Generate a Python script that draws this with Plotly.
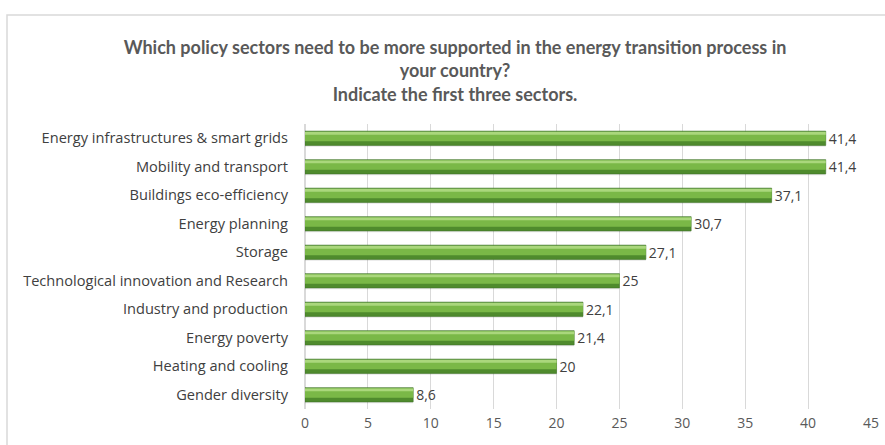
import plotly.graph_objects as go

categories = [
    "Energy infrastructures & smart grids",
    "Mobility and transport",
    "Buildings eco-efficiency",
    "Energy planning",
    "Storage",
    "Technological innovation and Research",
    "Industry and production",
    "Energy poverty",
    "Heating and cooling",
    "Gender diversity",
]
values = [41.4, 41.4, 37.1, 30.7, 27.1, 25, 22.1, 21.4, 20, 8.6]
labels = [f"{v:g}".replace(".", ",") for v in values]
x_ticks = [0, 5, 10, 15, 20, 25, 30, 35, 40, 45]

W, H = 885, 445
ML, MR, MT, MB = 305, 14, 124, 36
pw, ph = W - ML - MR, H - MT - MB

FONT = "Open Sans"
TFONT = "Lato"

fig = go.Figure()

# soft shadow
fig.add_trace(go.Bar(y=categories, x=values, orientation="h", width=0.50, offset=-0.20,
                     marker=dict(color="rgba(0,0,0,0.10)", line=dict(width=0)),
                     hoverinfo="skip", showlegend=False))
# base (dark) bar with labels
fig.add_trace(go.Bar(y=categories, x=values, orientation="h", width=0.50, offset=-0.25,
                     marker=dict(color="#4f8b2d", line=dict(color="#41752a", width=0.6)),
                     text=labels, textposition="outside", cliponaxis=False,
                     constraintext="none",
                     textfont=dict(family=FONT, size=14, color="#404040"),
                     showlegend=False))
# mid tone
fig.add_trace(go.Bar(y=categories, x=values, orientation="h", width=0.33, offset=-0.225,
                     marker=dict(color="#7ab847", line=dict(width=0)),
                     hoverinfo="skip", showlegend=False))
# highlight
fig.add_trace(go.Bar(y=categories, x=values, orientation="h", width=0.09, offset=-0.215,
                     marker=dict(color="#aad77c", line=dict(width=0)),
                     hoverinfo="skip", showlegend=False))

fig.update_layout(
    width=W, height=H,
    margin=dict(l=ML, r=MR, t=MT, b=MB),
    paper_bgcolor="white", plot_bgcolor="white",
    barmode="overlay",
    font=dict(family=FONT, size=13.5, color="#595959"),
    title=dict(
        text="Which policy sectors need to be more supported in the energy transition process in<br>your country?<br>Indicate the first three sectors.",
        x=455 / W, xanchor="center", y=1 - 54 / H, yanchor="top",
        font=dict(family=TFONT, size=18, color="#595959", weight="bold"),
    ),
    xaxis=dict(range=[0, 45], tickvals=x_ticks, showgrid=True, gridcolor="#d9d9d9",
               gridwidth=1, zeroline=True, zerolinecolor="#d9d9d9", showline=False,
               ticks="", tickfont=dict(size=14, color="#595959"), ticklabelstandoff=4,
               fixedrange=True, automargin=False),
    yaxis=dict(autorange="reversed", showgrid=False, ticks="", showline=False,
               tickfont=dict(size=14.6, color="#404040"), ticklabelstandoff=16,
               automargin=False),
    shapes=[dict(type="rect", xref="paper", yref="paper",
                 x0=(7 - ML) / pw, x1=(W + 10 - ML) / pw,
                 y0=(H - MB - (H + 10)) / ph, y1=(H - MB - 15) / ph,
                 line=dict(color="#d9d9d9", width=1.5), fillcolor="rgba(0,0,0,0)", layer="below")],
)

fig.write_html("out.html")
